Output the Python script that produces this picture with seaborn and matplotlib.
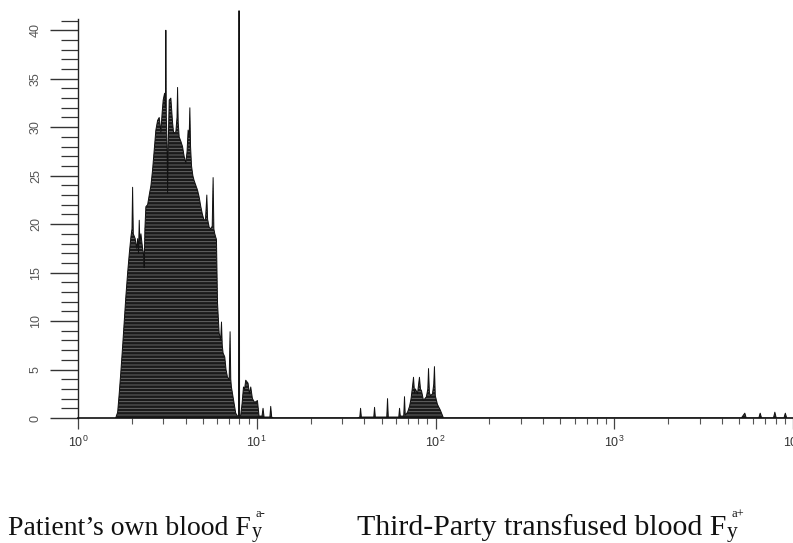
import numpy as np
import pandas as pd
import matplotlib
matplotlib.use("Agg")
import matplotlib.pyplot as plt
import seaborn as sns
from matplotlib.ticker import LogLocator, FixedLocator, LogFormatterSciNotation, NullFormatter

# ---- data: flow-cytometry channel (256 channels per decade) and event counts ----
channels = [54.0, 56.8, 59.0, 61.5, 64.0, 66.2, 68.5, 71.1, 73.5, 75.8, 77.3, 78.2, 79.2,
            81.9, 84.0, 85.4, 86.7, 87.7, 88.7, 90.1, 92.5, 93.8, 94.8, 95.8, 97.2, 99.7,
            102.0, 104.5, 106.8, 109.0, 111.5, 114.0, 116.3, 118.7, 120.5, 122.0, 124.0,
            125.2, 125.8, 126.5, 127.6, 128.3, 129.2, 130.6, 133.0, 135.4, 136.9, 140.1,
            141.8, 142.6, 143.5, 144.9, 147.5, 149.7, 152.0, 154.4, 156.2, 157.7, 159.2,
            160.2, 161.2, 162.6, 164.5, 166.3, 168.7, 171.2, 173.5, 175.9, 178.2, 180.6,
            182.6, 184.5, 185.6, 187.8, 190.2, 192.2, 193.5, 194.6, 195.9, 198.3, 199.8,
            202.1, 204.3, 205.5, 206.6, 207.8, 210.2, 212.0, 214.1, 216.5, 217.8, 218.8,
            219.7, 222.7, 225.9, 228.4, 229.9, 230.3, 231.0, 231.4, 233.1, 235.0, 237.0,
            238.6, 240.2, 243.5, 245.5, 247.4, 249.8, 253.0, 257.0, 259.3, 263.5, 265.0,
            266.5, 268.8, 274.8, 276.0, 277.4, 280.0,
            400.0, 403.6, 404.7, 405.8, 423.6, 424.7, 425.8, 442.2, 443.3, 444.4, 459.4,
            460.5, 461.6, 466.5, 467.6, 468.7, 472.0, 474.8, 477.0, 479.0, 480.5, 482.0,
            483.3, 486.2, 489.0, 490.5, 492.0, 494.8, 497.0, 499.0, 501.0, 502.0, 503.3,
            505.0, 507.7, 509.5, 510.5, 511.7, 514.8, 519.0, 523.4,
            950.0, 955.0, 957.0, 975.0, 977.0, 979.0, 996.0, 998.0, 1000.0, 1011.0, 1013.0, 1015.0]
counts = [0.0, 0.6, 2.5, 4.9, 7.5, 10.0, 12.5, 15.0, 17.0, 18.7, 19.5, 23.8, 19.0,
          18.5, 17.5, 18.5, 17.0, 20.4, 18.0, 19.0, 17.5, 17.0, 15.5, 19.5, 21.8, 22.0,
          23.0, 24.0, 25.6, 27.5, 29.7, 30.7, 31.0, 29.5, 31.5, 32.8, 33.5,
          32.0, 40.0, 31.0, 28.0, 23.2, 28.0, 32.8, 33.0, 30.5, 29.4, 29.5,
          31.0, 34.1, 30.5, 29.0, 28.5, 28.0, 27.0, 26.3, 27.5, 29.7, 29.0,
          32.0, 28.0, 26.0, 25.0, 24.5, 24.0, 23.5, 22.8, 21.8, 21.0, 20.4,
          20.5, 23.0, 20.5, 19.7, 19.5, 19.8, 24.8, 19.5, 19.0, 18.4, 11.9,
          8.8, 8.0, 9.9, 7.5, 6.7, 6.3, 5.0, 4.2, 4.0, 8.9, 4.0,
          3.2, 1.9, 0.5, 0.2, 0.2, 42.0, 42.0, 0.2, 0.3, 1.5, 3.2,
          3.0, 3.9, 3.6, 2.5, 3.2, 2.0, 1.6, 1.8, 0.2, 0.2, 1.0,
          0.1, 0.1, 0.1, 1.2, 0.1, 0.0,
          0.0, 0.1, 1.0, 0.1, 0.1, 1.1, 0.1, 0.1, 2.0, 0.1, 0.1,
          1.0, 0.2, 0.2, 2.2, 0.3, 0.6, 1.2, 2.0, 3.2, 4.2, 2.6,
          3.0, 2.5, 4.2, 3.0, 2.8, 1.8, 2.0, 2.2, 3.0, 5.1, 2.6,
          2.3, 2.5, 3.5, 5.3, 2.3, 1.4, 0.8, 0.0,
          0.0, 0.5, 0.0, 0.0, 0.5, 0.0, 0.0, 0.6, 0.0, 0.0, 0.5, 0.0]
channels_per_decade = 256
y_ticks = [0, 5, 10, 15, 20, 25, 30, 35, 40]
y_minor_ticks = list(range(0, 42))
x_limits = [1, 10000]
caption_left = ["Patient\u2019s own blood F", "y", "a-"]
caption_right = ["Third-Party transfused blood F", "y", "a+"]

sns.set_theme(style="ticks")
plt.rcParams['font.family'] = ['Liberation Sans', 'DejaVu Sans']
plt.rcParams['hatch.linewidth'] = 0.6
plt.rcParams['hatch.color'] = '#707070'

df = pd.DataFrame({
    "intensity": 10 ** (np.array(channels) / channels_per_decade),
    "count": counts,
})

W, H = 793, 543
fig = plt.figure(figsize=(W / 100, H / 100), dpi=100)
ax = fig.add_axes([78 / W, 1 - 418 / H, 1 - 78 / W, (418 - 6) / H])

ax.fill_between(df["intensity"], df["count"], 0, facecolor="#1a1a1a",
                edgecolor="#707070", hatch="-----", linewidth=0)
sns.lineplot(data=df, x="intensity", y="count", ax=ax, color="#111111",
             linewidth=0.7, estimator=None, sort=True)

ax.set_xscale("log")
ax.set_xlim(*x_limits)
ax.set_ylim(0, 42.5)
ax.set_xlabel("")
ax.set_ylabel("")

for s in ["top", "right"]:
    ax.spines[s].set_visible(False)
ax.spines["left"].set_bounds(0, 41.2)
ax.spines["left"].set_color("#222222")
ax.spines["bottom"].set_color("#111111")
ax.spines["left"].set_linewidth(1.0)
ax.spines["bottom"].set_linewidth(1.2)

ax.yaxis.set_major_locator(FixedLocator(y_ticks))
ax.yaxis.set_minor_locator(FixedLocator(y_minor_ticks))
ax.xaxis.set_major_locator(LogLocator(base=10, numticks=10))
ax.xaxis.set_minor_locator(LogLocator(base=10, subs=range(2, 10), numticks=50))
ax.xaxis.set_major_formatter(LogFormatterSciNotation())
ax.xaxis.set_minor_formatter(NullFormatter())

ax.tick_params(axis="y", which="major", length=20, width=1.0, direction="out",
               labelrotation=90, labelsize=9, pad=6, colors="#333333", labelcolor="#555555")
ax.tick_params(axis="y", which="minor", length=12, width=0.9, direction="out", colors="#333333")
ax.tick_params(axis="x", which="major", length=8, width=0.9, direction="out",
               labelsize=9, pad=4, colors="#444444", labelcolor="#333333")
ax.tick_params(axis="x", which="minor", length=4, width=0.8, direction="out", colors="#555555")
for lab in ax.get_yticklabels():
    lab.set_va("center")


def caption(x_px, parts, size):
    base_y = 1 - 535 / H
    t = fig.text(x_px / W, base_y, parts[0], fontsize=size, family="Liberation Serif",
                 color="#111111", ha="left", va="baseline")
    fig.canvas.draw()
    x_end = t.get_window_extent().x1
    fig.text((x_end + 0.5) / W, base_y - 2 / H, parts[1], fontsize=size * 0.72,
             family="Liberation Serif", color="#111111", ha="left", va="baseline")
    fig.text((x_end + 5) / W, base_y + 18 / H, parts[2], fontsize=9,
             family="Liberation Serif", color="#111111", ha="left", va="baseline")


caption(8, caption_left, 20)
caption(357, caption_right, 21.5)

fig.savefig("out.png", dpi=100)
